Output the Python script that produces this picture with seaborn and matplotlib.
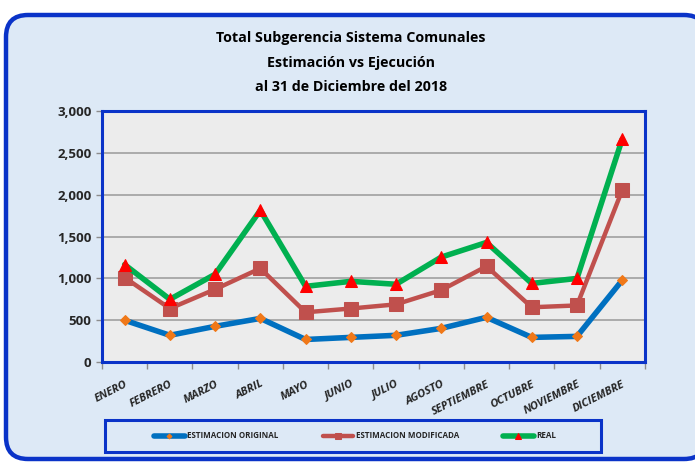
import numpy as np
import pandas as pd
import matplotlib
matplotlib.use("Agg")
import matplotlib.pyplot as plt
from matplotlib.patches import FancyBboxPatch, Rectangle
from matplotlib.transforms import IdentityTransform
from matplotlib.ticker import FuncFormatter, FixedLocator
import seaborn as sns

months = ["ENERO", "FEBRERO", "MARZO", "ABRIL", "MAYO", "JUNIO", "JULIO",
          "AGOSTO", "SEPTIEMBRE", "OCTUBRE", "NOVIEMBRE", "DICIEMBRE"]
estimacion_original = [500, 320, 427, 522, 270, 295, 320, 403, 535, 295, 307, 978]
estimacion_modificada = [1010, 640, 870, 1120, 595, 640, 690, 860, 1145, 655, 677, 2055]
real = [1165, 750, 1050, 1815, 905, 965, 930, 1255, 1430, 940, 1000, 2665]
series_names = ["ESTIMACION ORIGINAL", "ESTIMACION MODIFICADA", "REAL"]
title_lines = ["Total Subgerencia Sistema Comunales",
               "Estimación vs Ejecución",
               "al 31 de Diciembre del 2018"]

sns.set_theme(style="white")
plt.rcParams["font.family"] = ["Open Sans", "DejaVu Sans"]

df = pd.DataFrame({
    "pos": list(range(len(months))) * 3,
    "valor": estimacion_original + estimacion_modificada + real,
    "serie": [series_names[0]] * 12 + [series_names[1]] * 12 + [series_names[2]] * 12,
})

fig = plt.figure(figsize=(6.95, 4.63), dpi=100)
fig.patch.set_facecolor("white")

# outer rounded frame (pixel coordinates)
frame = FancyBboxPatch((6, 4), 700, 444, boxstyle="round,pad=0,rounding_size=22",
                       transform=IdentityTransform(), facecolor="#dde9f6",
                       edgecolor="#0a33c8", linewidth=3.2, zorder=-5)
fig.patches.append(frame)
# legend box
legbox = Rectangle((105, 463 - 452), 496, 32, transform=IdentityTransform(),
                   facecolor="none", edgecolor="#0a33c8", linewidth=2.2, zorder=-4)
fig.patches.append(legbox)

ax = fig.add_axes([0.1468, 0.218, 0.781, 0.542])
ax.set_zorder(2)
ax.set_facecolor("#ececec")

styles = {
    series_names[0]: dict(color="#0070c0", lw=4.0, marker="D", ms=5.5, mfc="#f07818", mec="#f07818"),
    series_names[1]: dict(color="#c0504d", lw=3.2, marker="s", ms=10, mfc="#c0504d", mec="#c0504d"),
    series_names[2]: dict(color="#00b050", lw=4.0, marker="^", ms=8.5, mfc="#ff0000", mec="#ff0000"),
}
for name in series_names:
    st = styles[name]
    sns.lineplot(data=df[df["serie"] == name], x="pos", y="valor", ax=ax,
                 color=st["color"], linewidth=st["lw"], marker=st["marker"],
                 markersize=st["ms"], markerfacecolor=st["mfc"],
                 markeredgecolor=st["mec"], label=name, legend=False, zorder=3)

ax.set_xlim(-0.5, len(months) - 0.5)
ax.set_ylim(0, 3000)
ax.set_yticks([0, 500, 1000, 1500, 2000, 2500, 3000])
ax.yaxis.set_major_formatter(FuncFormatter(lambda v, p: f"{int(v):,}"))
ax.grid(axis="y", color="#a6a6a6", linewidth=1.3)
ax.grid(axis="x", visible=False)
ax.set_axisbelow(True)
for sp in ax.spines.values():
    sp.set_color("#0a33c8")
    sp.set_linewidth(2.2)

ax.xaxis.set_major_locator(FixedLocator(np.arange(-0.5, len(months), 1.0)))
ax.xaxis.set_minor_locator(FixedLocator(np.arange(len(months))))
ax.set_xticklabels([])
ax.set_xticklabels(months, minor=True, rotation=27, ha="right",
                   rotation_mode="anchor", fontsize=8, fontweight="bold",
                   fontstyle="italic")
ax.tick_params(axis="x", which="major", length=5, width=1, color="#8c8c8c",
               direction="out", bottom=True)
ax.tick_params(axis="x", which="minor", length=0, pad=12)
ax.tick_params(axis="y", which="major", length=4, width=1, color="#8c8c8c",
               direction="out", left=True, labelsize=9.5)
for lab in ax.get_yticklabels():
    lab.set_fontweight("bold")
ax.set_xlabel("")
ax.set_ylabel("")

# titles
for i, t in enumerate(title_lines):
    fig.text(0.505, 1 - (38 + 24.5 * i) / 463, t, ha="center", va="center",
             fontsize=10.3, fontweight="bold", color="black")

handles, labels = ax.get_legend_handles_labels()
leg = fig.legend(handles, labels, loc="center",
                 bbox_to_anchor=(355 / 695, 1 - 436 / 463),
                 ncol=3, frameon=False, handlelength=3.8,
                 handletextpad=0.3, columnspacing=5.5, markerscale=0.45,
                 prop={"weight": "bold", "size": 5.8})

fig.savefig("out.png", dpi=100)
